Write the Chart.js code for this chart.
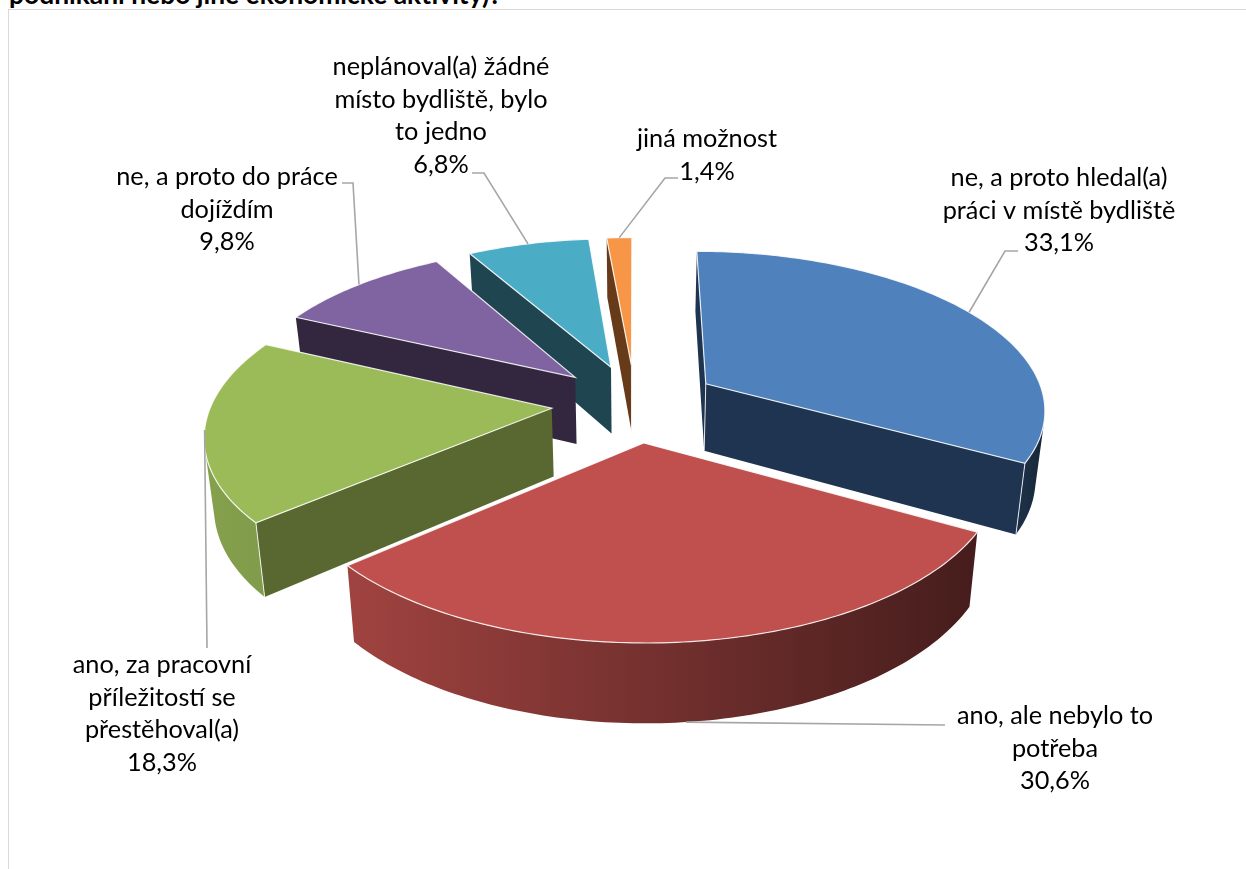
<!DOCTYPE html>
<html lang="cs">
<head>
<meta charset="utf-8">
<script src="https://cdn.jsdelivr.net/npm/chart.js@4"></script>
<style>
html, body { margin: 0; padding: 0; background: #fff; overflow: hidden; }
#page { position: relative; width: 1246px; height: 869px; overflow: hidden; }
#title { position: absolute; left: 9px; top: -22px; font: bold 26.4px Lato, sans-serif; line-height: 32px; white-space: nowrap; color: #000; }
#frame { position: absolute; left: 8px; top: 9px; width: 1238px; height: 860px; border-left: 1.5px solid #d9d9d9; border-top: 1.5px solid #d9d9d9; }
canvas { position: absolute; left: 0; top: 0; }
</style>
</head>
<body>
<div id="page">
<div id="title">podnikání nebo jiné ekonomické aktivity)?</div>
<div id="frame"></div>
<canvas id="graph" width="1246" height="869"></canvas>
</div>
<script>
const categories = ['ne, a proto hledal(a) práci v místě bydliště', 'ano, ale nebylo to potřeba', 'ano, za pracovní příležitostí se přestěhoval(a)', 'ne, a proto do práce dojíždím', 'neplánoval(a) žádné místo bydliště, bylo to jedno', 'jiná možnost'];
const values = [33.1, 30.6, 18.3, 9.8, 6.8, 1.4];
const labelLines = [
    ['ne, a proto hledal(a)', 'práci v místě bydliště'],
    ['ano, ale nebylo to', 'potřeba'],
    ['ano, za pracovní', 'příležitostí se', 'přestěhoval(a)'],
    ['ne, a proto do práce', 'dojíždím'],
    ['neplánoval(a) žádné', 'místo bydliště, bylo', 'to jedno'],
    ['jiná možnost']
];
const topColors = ['#4f81bd', '#c0504d', '#9bbb59', '#8064a2', '#4bacc6', '#f79646'];
const wallColors = ['#1f3450', '#561f1d', '#586830', '#33263f', '#1e4550', '#673b1a'];

// where the labels sit: centre x, first baseline y
const labelPos = [[1059, 186], [1055, 724], [162, 673], [227, 185], [441, 75], [707, 147]];
// leader lines: elbow points after the rim anchor
const leaders = [
    [[1005, 251], [1018, 251]],
    [[945, 725]],
    [[207, 648]],
    [[353, 183], [342, 183]],
    [[484, 173], [472, 173]],
    [[665, 178], [678, 178]]
];

// projection
const persp = 0.000435, topSquash = 0.4627, botSquash = 0.498, botShrink = 0.977, depth = 68;

function project(arc, u, v, bottom){
    const s = 1 / (1 - persp * v);
    if(bottom){
        return [arc.x + u * s * botShrink, arc.y + depth + botSquash * v * s * botShrink];
    }
    return [arc.x + u * s, arc.y + topSquash * v * s];
}

function ground(arc, angle, r){
    // angle comes from the chart, it is measured from 3 o'clock
    const mid = (arc.startAngle + arc.endAngle) / 2;
    const off = arc.options.offset;
    return [Math.cos(mid) * off + Math.cos(angle) * r, Math.sin(mid) * off + Math.sin(angle) * r];
}

function shade(hex, f){
    const n = parseInt(hex.slice(1), 16);
    return 'rgb(' + Math.round((n >> 16) * f) + ',' + Math.round(((n >> 8) & 255) * f) + ',' + Math.round((n & 255) * f) + ')';
}

function rimFactor(angle){
    const deg = ((angle + Math.PI / 2) * 180 / Math.PI + 360) % 360;
    return Math.min(0.86, 0.36 + (deg - 119) * 0.0043);
}

function quadArea(a, b, c, d){
    const p = [a, b, c, d];
    let area = 0;
    for(let i = 0; i < 4; i++){
        const q = p[(i + 1) % 4];
        area += p[i][0] * q[1] - q[0] * p[i][1];
    }
    return area / 2;
}

function fillPoly(ctx, pts, color){
    ctx.beginPath();
    pts.forEach((p, k) => k ? ctx.lineTo(p[0], p[1]) : ctx.moveTo(p[0], p[1]));
    ctx.closePath();
    ctx.fillStyle = color;
    ctx.fill();
}

function drawSlice(ctx, arc, i){
    const steps = Math.max(2, Math.ceil((arc.endAngle - arc.startAngle) * 180 / Math.PI));
    const ring = [ground(arc, 0, 0)];
    const angles = [null];
    for(let k = 0; k <= steps; k++){
        const a = arc.startAngle + (arc.endAngle - arc.startAngle) * k / steps;
        ring.push(ground(arc, a, arc.outerRadius));
        angles.push(a);
    }
    const top = ring.map(p => project(arc, p[0], p[1], false));
    const bot = ring.map(p => project(arc, p[0], p[1], true));
    const n = ring.length;
    const facing = [];
    for(let k = 0; k < n; k++){
        facing[k] = quadArea(top[k], top[(k + 1) % n], bot[(k + 1) % n], bot[k]) < 0;
    }
    // the two straight walls, viewer side only
    [0, n - 1].forEach(k => {
        const j = (k + 1) % n;
        if(facing[k]) fillPoly(ctx, [top[k], top[j], bot[j], bot[k]], wallColors[i]);
    });
    // rim as one piece, shaded left to right
    const rim = [];
    for(let k = 1; k < n - 1; k++) if(facing[k]) rim.push(k);
    if(rim.length){
        const first = rim[0], last = rim[rim.length - 1] + 1;
        const pts = [];
        for(let k = first; k <= last; k++) pts.push(top[k]);
        for(let k = last; k >= first; k--) pts.push(bot[k]);
        const xa = top[first][0], xb = top[last][0];
        const grad = ctx.createLinearGradient(xa, 0, xb === xa ? xa + 1 : xb, 0);
        grad.addColorStop(0, shade(topColors[i], rimFactor(angles[first])));
        grad.addColorStop(1, shade(topColors[i], rimFactor(angles[last])));
        fillPoly(ctx, pts, grad);
    }
    // white edges where two visible walls meet
    ctx.strokeStyle = 'rgba(255,255,255,0.85)';
    ctx.lineWidth = 1;
    [0, 1, n - 1].forEach(k => {
        if(facing[k] && facing[(k - 1 + n) % n]){
            ctx.beginPath();
            ctx.moveTo(top[k][0], top[k][1]);
            ctx.lineTo(bot[k][0], bot[k][1]);
            ctx.stroke();
        }
    });
    fillPoly(ctx, top, topColors[i]);
    ctx.strokeStyle = 'rgba(255,255,255,0.85)';
    ctx.lineWidth = 1.2;
    ctx.stroke();
}

function drawLabels(ctx, arcs){
    arcs.forEach((arc, i) => {
        const mid = (arc.startAngle + arc.endAngle) / 2;
        const g = ground(arc, mid, arc.outerRadius);
        // the big front slice has its leader on the lower rim
        const start = project(arc, g[0], g[1], Math.sin(mid) > 0.9);
        ctx.beginPath();
        ctx.moveTo(start[0], start[1]);
        leaders[i].forEach(p => ctx.lineTo(p[0], p[1]));
        ctx.strokeStyle = '#a6a6a6';
        ctx.lineWidth = 1.6;
        ctx.stroke();

        const lines = labelLines[i].concat(values[i].toFixed(1).replace('.', ',') + '%');
        ctx.fillStyle = '#000';
        ctx.font = '25.3px Lato, sans-serif';
        ctx.textAlign = 'center';
        ctx.textBaseline = 'alphabetic';
        lines.forEach((t, k) => ctx.fillText(t, labelPos[i][0], labelPos[i][1] + k * 32.6));
    });
}

const pie3d = {
    id: 'pie3d',
    beforeDatasetsDraw(chart){
        const ctx = chart.ctx;
        const arcs = chart.getDatasetMeta(0).data;
        const order = arcs.map((a, i) => i).sort((p, q) => {
            const mp = (arcs[p].startAngle + arcs[p].endAngle) / 2;
            const mq = (arcs[q].startAngle + arcs[q].endAngle) / 2;
            return Math.sin(mp) - Math.sin(mq);
        });
        ctx.save();
        order.forEach(i => drawSlice(ctx, arcs[i], i));
        drawLabels(ctx, arcs);
        ctx.restore();
        return false;
    }
};

new Chart(document.getElementById('graph'), {
    type: 'pie',
    data: {
        labels: categories,
        datasets: [{ data: values, backgroundColor: topColors, offset: 83.6, borderWidth: 0 }]
    },
    options: {
        responsive: false,
        animation: false,
        radius: 340,
        rotation: 0,
        layout: { padding: { left: 24, bottom: 63 } },
        plugins: { legend: { display: false }, tooltip: { enabled: false } }
    },
    plugins: [pie3d]
});
</script>
</body>
</html>
